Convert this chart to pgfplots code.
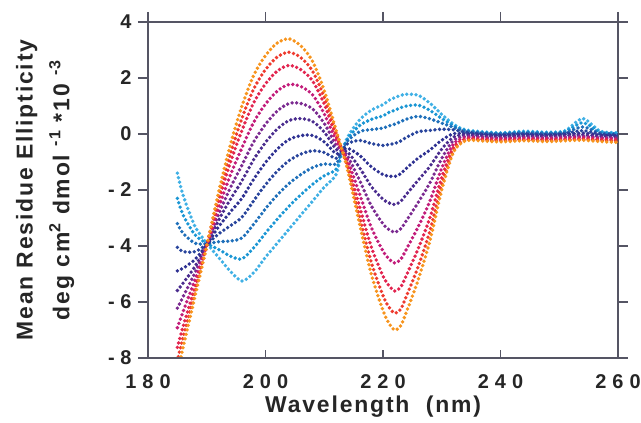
\documentclass[border=0pt]{standalone}
\usepackage{fontspec}
\setmainfont{Liberation Sans}
\newfontfamily\lblf[LetterSpace=8]{Liberation Sans}
\newfontfamily\tickf[LetterSpace=30]{Liberation Sans}
\usepackage{pgfplots}
\pgfplotsset{compat=1.18}
\usepackage{pgfplotstable}
\definecolor{axc}{RGB}{85,85,100}
\definecolor{c0}{HTML}{3FB0E5}
\definecolor{c1}{HTML}{1A96D4}
\definecolor{c2}{HTML}{1E6FBA}
\definecolor{c3}{HTML}{28449C}
\definecolor{c4}{HTML}{2E3192}
\definecolor{c5}{HTML}{4A2C8E}
\definecolor{c6}{HTML}{7B2A90}
\definecolor{c7}{HTML}{C21C7A}
\definecolor{c8}{HTML}{E2244F}
\definecolor{c9}{HTML}{EE3A2E}
\definecolor{c10}{HTML}{F7941D}
\pgfplotstableread{
l s0 s1 s2 s3 s4 s5 s6 s7 s8 s9 s10
185 -1.4 -2.3 -3.2 -4.05 -4.89 -5.59 -6.22 -6.92 -7.62 -8.11 -8.6
186 -2.2 -2.9 -3.55 -4.2 -4.79 -5.32 -5.80 -6.33 -6.86 -7.23 -7.6
188 -3.3 -3.6 -3.9 -4.2 -4.48 -4.73 -4.95 -5.2 -5.45 -5.63 -5.8
190 -3.9 -3.91 -3.92 -3.94 -3.95 -3.96 -3.97 -3.98 -3.99 -3.99 -4.0
192 -4.4 -4.12 -3.85 -3.57 -3.32 -3.09 -2.88 -2.65 -2.42 -2.26 -2.1
194 -4.9 -4.36 -3.82 -3.28 -2.79 -2.34 -1.93 -1.48 -1.03 -0.72 -0.4
196 -5.25 -4.46 -3.71 -2.97 -2.29 -1.67 -1.11 -0.49 0.13 0.57 1.0
198 -4.95 -4.06 -3.22 -2.38 -1.61 -0.91 -0.28 0.42 1.12 1.61 2.1
200 -4.4 -3.54 -2.67 -1.81 -1.02 -0.30 0.35 1.07 1.79 2.30 2.8
202 -3.9 -3.04 -2.18 -1.33 -0.54 0.18 0.82 1.53 2.25 2.75 3.25
204 -3.4 -2.58 -1.77 -0.95 -0.20 0.48 1.09 1.77 2.45 2.92 3.4
206 -2.9 -2.17 -1.45 -0.72 -0.06 0.55 1.09 1.70 2.30 2.73 3.15
208 -2.4 -1.8 -1.2 -0.6 -0.05 0.45 0.9 1.4 1.9 2.25 2.6
210 -1.9 -1.49 -1.07 -0.66 -0.28 0.07 0.38 0.72 1.07 1.31 1.55
212 -1.45 -1.26 -1.07 -0.87 -0.70 -0.54 -0.39 -0.23 -0.07 0.04 0.15
213 -0.65 -0.63 -0.62 -0.61 -0.6 -0.59 -0.58 -0.57 -0.56 -0.56 -0.55
214 -0.1 -0.16 -0.24 -0.34 -0.51 -0.65 -0.80 -0.95 -1.10 -1.21 -1.3
216 0.5 0.30 0.08 -0.23 -0.76 -1.20 -1.65 -2.13 -2.58 -2.93 -3.2
218 0.85 0.52 0.16 -0.34 -1.17 -1.87 -2.56 -3.33 -4.03 -4.58 -5.0
220 1.05 0.65 0.21 -0.41 -1.45 -2.33 -3.21 -4.18 -5.07 -5.77 -6.3
221 1.2 0.77 0.29 -0.37 -1.50 -2.46 -3.41 -4.46 -5.41 -6.18 -6.75
222 1.3 0.85 0.35 -0.34 -1.52 -2.52 -3.51 -4.61 -5.61 -6.40 -7.0
223 1.38 0.94 0.44 -0.25 -1.42 -2.41 -3.39 -4.48 -5.47 -6.26 -6.85
224 1.42 1.00 0.53 -0.12 -1.22 -2.15 -3.09 -4.11 -5.04 -5.79 -6.35
226 1.38 1.03 0.63 0.08 -0.86 -1.65 -2.44 -3.31 -4.09 -4.73 -5.2
228 1.1 0.84 0.54 0.13 -0.57 -1.15 -1.74 -2.39 -2.98 -3.45 -3.8
230 0.7 0.55 0.39 0.17 -0.22 -0.54 -0.87 -1.22 -1.55 -1.81 -2.0
232 0.35 0.30 0.24 0.15 0.01 -0.11 -0.23 -0.36 -0.48 -0.58 -0.65
234 0.15 0.13 0.10 0.07 0.01 -0.03 -0.08 -0.13 -0.18 -0.22 -0.25
237 0.08 0.06 0.04 0.01 -0.03 -0.07 -0.11 -0.15 -0.19 -0.22 -0.25
240 0.04 0.03 0.01 -0.02 -0.06 -0.09 -0.13 -0.17 -0.21 -0.25 -0.28
244 0.10 0.07 0.04 0.01 -0.03 -0.07 -0.11 -0.15 -0.19 -0.22 -0.24
248 0.06 0.05 0.02 -0.01 -0.05 -0.08 -0.12 -0.16 -0.20 -0.24 -0.27
251 0.12 0.09 0.05 0.02 -0.02 -0.06 -0.10 -0.14 -0.18 -0.21 -0.24
254 0.55 0.40 0.25 0.12 0.03 -0.03 -0.08 -0.12 -0.17 -0.20 -0.22
257 0.10 0.07 0.04 0.00 -0.04 -0.08 -0.12 -0.16 -0.20 -0.23 -0.27
260 0.05 0.03 0.00 -0.03 -0.07 -0.10 -0.14 -0.18 -0.22 -0.26 -0.30
}\cd
\begin{document}
\begin{tikzpicture}
\useasboundingbox (-148bp,-65bp) rectangle (493bp,358bp);
\begin{axis}[
  at={(0,0)}, anchor=south west, scale only axis,
  width=470bp, height=336bp,
  xmin=180, xmax=260, ymin=-8, ymax=4,
  axis line style={axc, line width=1.3bp},
  tick style={axc, line width=1.3bp},
  tick align=outside, major tick length=10bp,
  xtick={180,200,220,240,260}, xtick pos=right, xticklabel pos=left,
  xticklabels={180,200,220,240,260},
  xticklabel style={font=\tickf\bfseries\fontsize{20}{24}\selectfont, yshift=-3bp, text=black!85},
  ytick={-8,-6,-4,-2,0,2,4},
  yticklabels={- 8,- 6,- 4,- 2,0,2,4},
  yticklabel style={font=\bfseries\fontsize{20}{24}\selectfont, xshift=-3bp, text=black!85},
  xlabel={Wavelength\ \ (nm)},
  xlabel style={font=\lblf\bfseries\fontsize{23}{27}\selectfont, at={(axis description cs:0.479,-0.145)}, anchor=center, text=black!85},
  ylabel={Mean Residue Ellipticity\\deg cm\textsuperscript{2} dmol \textsuperscript{-1} *10 \textsuperscript{-3}},
  ylabel style={align=center, font=\lblf\bfseries\fontsize{23}{37}\selectfont, at={(axis description cs:-0.219,0.5)}, anchor=center, text=black!85},
  every axis plot/.append style={smooth, no marks, line width=3.8bp, line cap=round, dash pattern=on 0bp off 4.6bp},
]
\addplot[c0] table[x=l, y=s0] {\cd};
\addplot[c1] table[x=l, y=s1] {\cd};
\addplot[c2] table[x=l, y=s2] {\cd};
\addplot[c3] table[x=l, y=s3] {\cd};
\addplot[c4] table[x=l, y=s4] {\cd};
\addplot[c5] table[x=l, y=s5] {\cd};
\addplot[c6] table[x=l, y=s6] {\cd};
\addplot[c7] table[x=l, y=s7] {\cd};
\addplot[c8] table[x=l, y=s8] {\cd};
\addplot[c9] table[x=l, y=s9] {\cd};
\addplot[c10] table[x=l, y=s10] {\cd};
\end{axis}
\begin{axis}[
  at={(0,0)}, anchor=south west, scale only axis,
  width=470bp, height=336bp,
  xmin=180, xmax=260, ymin=-8, ymax=4,
  hide y axis, axis x line*=bottom,
  axis line style={axc, line width=1.3bp, -},
  tick style={axc, line width=1.3bp},
  tick align=inside, major tick length=8bp,
  xtick={200,220,240}, xticklabels={},
]
\end{axis}
\end{tikzpicture}
\end{document}
